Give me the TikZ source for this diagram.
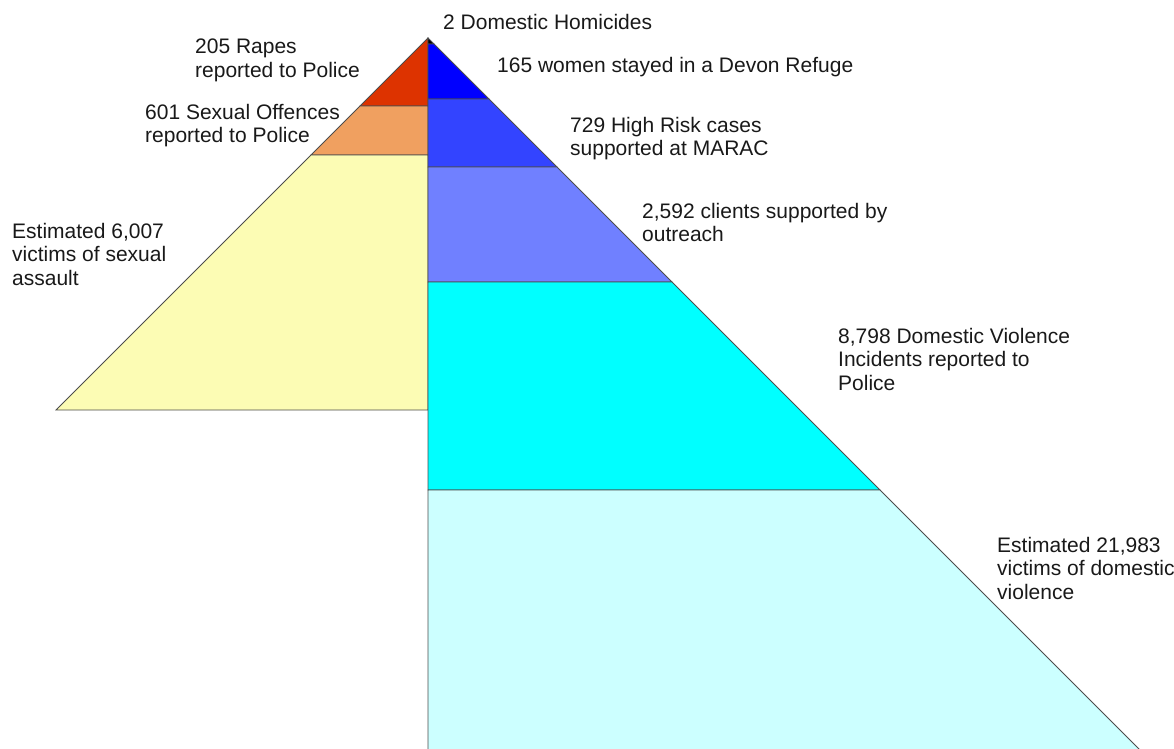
\documentclass[tikz,border=0pt]{standalone}
\usepackage{fontspec}
\setmainfont{Liberation Sans}
\definecolor{rapered}{RGB}{221,51,0}
\definecolor{offenceorange}{RGB}{240,160,96}
\definecolor{assaultyellow}{RGB}{252,252,180}
\definecolor{refugeblue}{RGB}{0,0,255}
\definecolor{maracblue}{RGB}{51,68,255}
\definecolor{outreachblue}{RGB}{112,128,255}
\definecolor{incidentcyan}{RGB}{0,255,255}
\definecolor{victimcyan}{RGB}{204,255,255}

\begin{document}
\begin{tikzpicture}[x=1pt, y=-1pt,
    band/.style={draw=black!70, line width=0.8pt},
    lbl/.style={anchor=north west, inner sep=0pt, align=left, text=black!90, font=\fontsize{21}{23.5}\selectfont}]
            \useasboundingbox (0,0) rectangle (1174,748);

            % Left pyramid: sexual violence
            \draw[band, fill=rapered] (428,38) -- (360,106) -- (428,106) -- cycle;
            \draw[band, fill=offenceorange] (360,106) -- (311,155) -- (428,155) -- (428,106) -- cycle;
            \draw[band, fill=assaultyellow] (311,155) -- (56,410) -- (428,410) -- (428,155) -- cycle;

            % Right pyramid: domestic violence
            \draw[band, fill=black] (428,38) -- (434,44) -- (428,44) -- cycle;
            \draw[band, fill=refugeblue] (428,44) -- (434,44) -- (489,99) -- (428,99) -- cycle;
            \draw[band, fill=maracblue] (428,99) -- (489,99) -- (557,167) -- (428,167) -- cycle;
            \draw[band, fill=outreachblue] (428,167) -- (557,167) -- (672,282) -- (428,282) -- cycle;
            \draw[band, fill=incidentcyan] (428,282) -- (672,282) -- (880,490) -- (428,490) -- cycle;
            % bottom band runs off the page, so no base line
            \fill[victimcyan] (428,490) -- (880,490) -- (1140,750) -- (428,750) -- cycle;
            \draw[band] (428,750) -- (428,490) -- (880,490) -- (1140,750);

            % Labels for the sexual violence bands
            \node[lbl] (rapes) at (195,39) {205 Rapes\\reported to Police};
            \node[lbl] (offences) at (145,104) {601 Sexual Offences\\reported to Police};
            \node[lbl] (assault) at (12,223) {Estimated 6,007\\victims of sexual\\assault};

            % Labels for the domestic violence bands
            \node[lbl] (homicides) at (443,14) {2 Domestic Homicides};
            \node[lbl] (refuge) at (497,57) {165 women stayed in a Devon Refuge};
            \node[lbl] (marac) at (570,117) {729 High Risk cases\\supported at MARAC};
            \node[lbl] (outreach) at (642,203) {2,592 clients supported by\\outreach};
            \node[lbl] (incidents) at (838,328) {8,798 Domestic Violence\\Incidents reported to\\Police};
            \node[lbl] (victims) at (997,537) {Estimated 21,983\\victims of domestic\\violence};

        \end{tikzpicture}
\end{document}
